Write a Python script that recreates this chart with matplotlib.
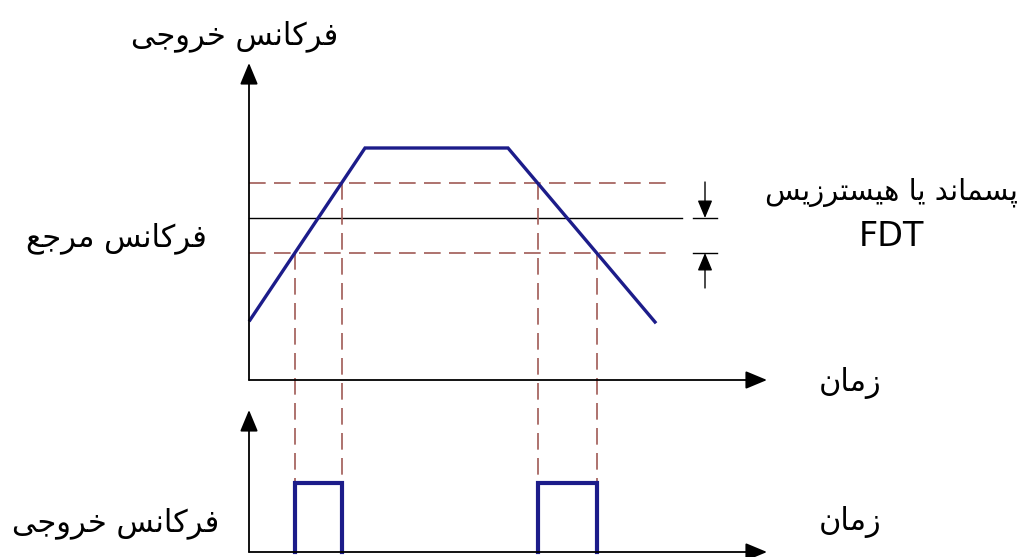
import numpy as np
import matplotlib
matplotlib.use("Agg")
import matplotlib.pyplot as plt

# diagram values (pixel-like diagram units, y grows downward)
ramp_t = [250, 365, 508, 655]
ramp_f = [320, 148, 148, 322]
ref_level = 218
hyst_hi = 183
hyst_lo = 253
pulse_base = 552
pulse_top = 483

label_out = "فرکانس خروجی"
label_ref = "فرکانس مرجع"
label_hyst = "پسماند یا هیسترزیس"
label_fdt = "FDT"
label_time = "زمان"

# simple arabic shaping (matplotlib has no shaping / bidi)
FORMS = {
    "ا": ("\uFE8D", "\uFE8E", None, None),
    "ت": ("\uFE95", "\uFE96", "\uFE97", "\uFE98"),
    "ج": ("\uFE9D", "\uFE9E", "\uFE9F", "\uFEA0"),
    "خ": ("\uFEA5", "\uFEA6", "\uFEA7", "\uFEA8"),
    "د": ("\uFEA9", "\uFEAA", None, None),
    "ر": ("\uFEAD", "\uFEAE", None, None),
    "ز": ("\uFEAF", "\uFEB0", None, None),
    "س": ("\uFEB1", "\uFEB2", "\uFEB3", "\uFEB4"),
    "ع": ("\uFEC9", "\uFECA", "\uFECB", "\uFECC"),
    "ف": ("\uFED1", "\uFED2", "\uFED3", "\uFED4"),
    "م": ("\uFEE1", "\uFEE2", "\uFEE3", "\uFEE4"),
    "ن": ("\uFEE5", "\uFEE6", "\uFEE7", "\uFEE8"),
    "ه": ("\uFEE9", "\uFEEA", "\uFEEB", "\uFEEC"),
    "و": ("\uFEED", "\uFEEE", None, None),
    "پ": ("\uFB56", "\uFB57", "\uFB58", "\uFB59"),
    "ک": ("\uFB8E", "\uFB8F", "\uFB90", "\uFB91"),
    "ی": ("\uFBFC", "\uFBFD", "\uFBFE", "\uFBFF"),
}


def fa(s):
    out = []
    for i, c in enumerate(s):
        if c not in FORMS:
            out.append(c)
            continue
        prev = s[i - 1] if i > 0 else None
        nxt = s[i + 1] if i + 1 < len(s) else None
        jp = prev in FORMS and FORMS[prev][2] is not None
        jn = nxt in FORMS and FORMS[c][2] is not None
        iso, fin, ini, med = FORMS[c]
        if jp and jn:
            out.append(med)
        elif jp:
            out.append(fin)
        elif jn:
            out.append(ini)
        else:
            out.append(iso)
    return "".join(out)[::-1]


plt.rcParams['font.family'] = ['DejaVu Sans']

fig = plt.figure(figsize=(10.24, 5.57), dpi=100)
ax = fig.add_axes([0, 0, 1, 1])
ax.set_xlim(0, 1024)
ax.set_ylim(557, 0)
ax.axis('off')

red = '#a05a55'
blue = '#1c1c8a'
ls_dash = (0, (10, 5))


def arrow(x0, y0, x1, y1, ms=22, lw=1.3):
    ax.annotate('', xy=(x1, y1), xytext=(x0, y0),
                arrowprops=dict(arrowstyle='-|>,head_length=0.6,head_width=0.25',
                                color='black', lw=lw,
                                mutation_scale=ms, shrinkA=0, shrinkB=0))

# axes
x0 = 249
arrow(x0, 380, x0, 63)
arrow(x0, 380, 767, 380)
arrow(x0, pulse_base, x0, 410)
arrow(x0, pulse_base, 767, pulse_base)

# threshold lines
ax.plot([x0, 667], [hyst_hi, hyst_hi], color=red, lw=1.2, ls=ls_dash)
ax.plot([x0, 667], [hyst_lo, hyst_lo], color=red, lw=1.2, ls=ls_dash)
ax.plot([x0, 682], [ref_level, ref_level], color='black', lw=1)

# crossing times
rise_t = np.interp([hyst_lo, hyst_hi], ramp_f[1::-1], ramp_t[1::-1])
fall_t = np.interp([hyst_hi, hyst_lo], ramp_f[2:], ramp_t[2:])

for t, lev in [(rise_t[0], hyst_lo), (rise_t[1], hyst_hi),
               (fall_t[0], hyst_hi), (fall_t[1], hyst_lo)]:
    ax.plot([t, t], [lev, pulse_top], color=red, lw=1.2, ls=ls_dash)

# frequency ramp
ax.plot(ramp_t, ramp_f, color=blue, lw=2.4, solid_joinstyle='miter')

# output pulses
for a, b in [(rise_t[0], rise_t[1]), (fall_t[0], fall_t[1])]:
    ax.plot([a, a, b, b], [pulse_base, pulse_top, pulse_top, pulse_base],
            color=blue, lw=3, solid_joinstyle='miter')

# hysteresis markers
ax.plot([693, 717], [ref_level, ref_level], color='black', lw=1)
ax.plot([693, 717], [hyst_lo, hyst_lo], color='black', lw=1)
arrow(705, 182, 705, ref_level, ms=18, lw=1)
arrow(705, 288, 705, hyst_lo, ms=18, lw=1)

# labels
fs = 22
ax.text(235, 36, fa(label_out), fontsize=fs, ha='center', va='center')
ax.text(116, 238, fa(label_ref), fontsize=fs, ha='center', va='center')
ax.text(891, 192, fa(label_hyst), fontsize=21, ha='center', va='center')
ax.text(891, 236, label_fdt, fontsize=24, ha='center', va='center')
ax.text(850, 383, fa(label_time), fontsize=fs, ha='center', va='center')
ax.text(850, 522, fa(label_time), fontsize=fs, ha='center', va='center')
ax.text(116, 523, fa(label_out), fontsize=fs, ha='center', va='center')

fig.savefig('out.png', dpi=100)
